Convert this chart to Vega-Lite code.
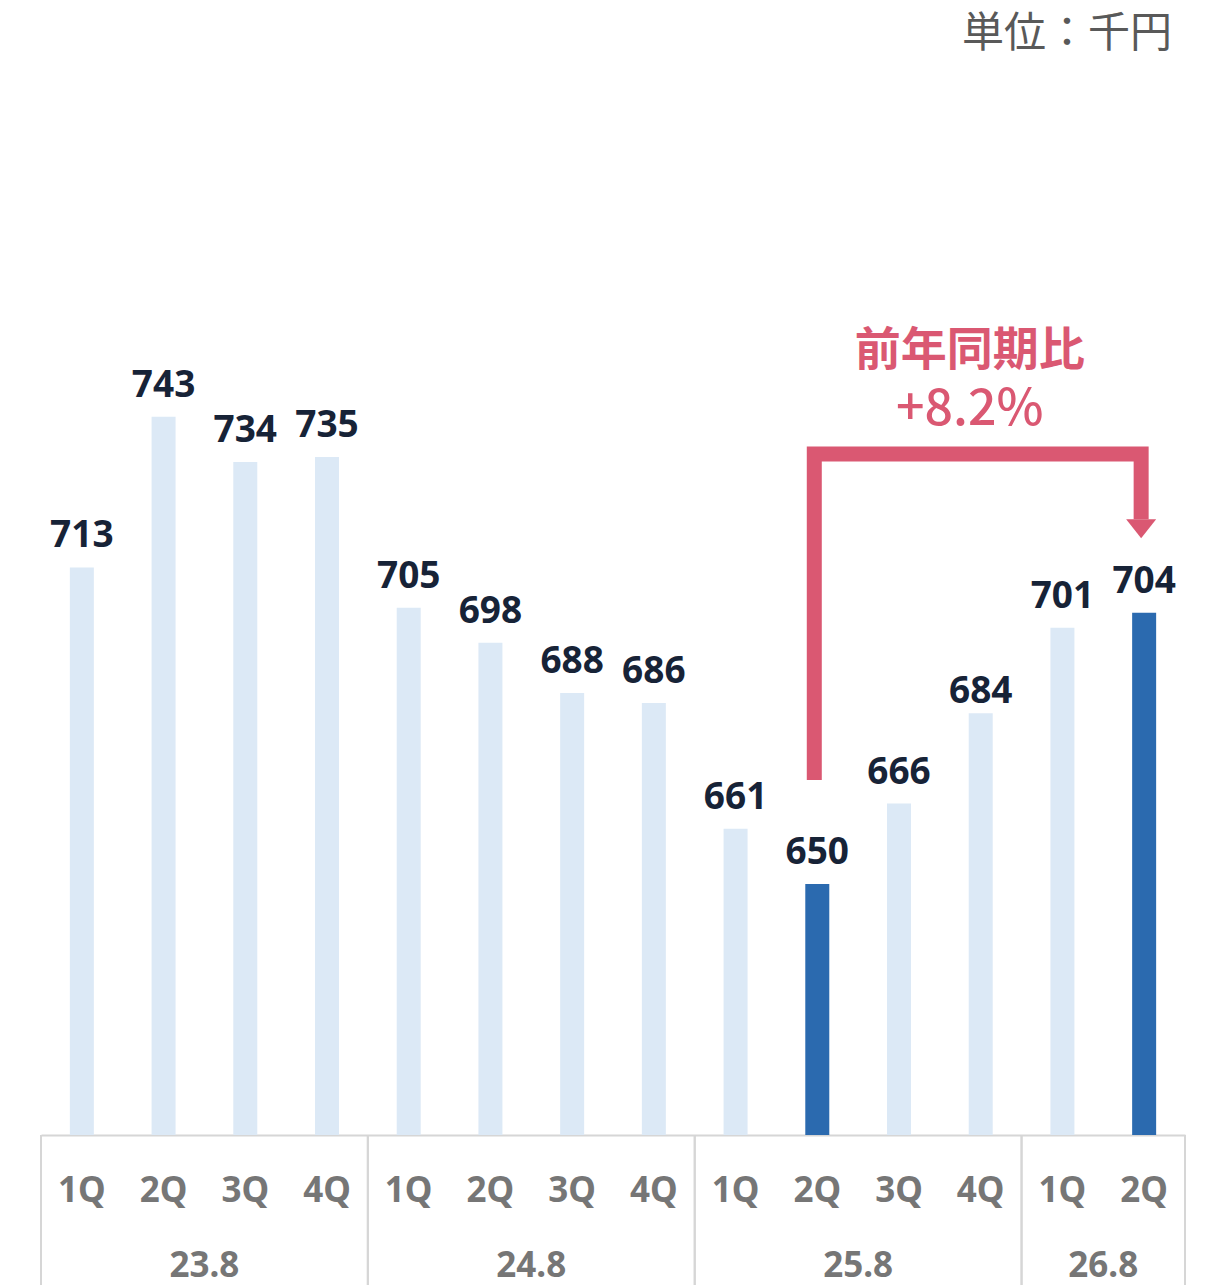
{
  "$schema": "https://vega.github.io/schema/vega-lite/v6.json",
  "autosize": "none",
  "width": 1144,
  "height": 1130,
  "padding": {"left": 41, "top": 5, "right": 29, "bottom": 150},
  "background": "#ffffff",
  "config": {"view": {"stroke": null}, "font": "Noto Sans, Noto Sans CJK JP"},
  "datasets": {
    "bars": [
      {"period": "23.8", "q": "1Q", "key": "23.8 1Q", "value": 713, "current": "no"},
      {"period": "23.8", "q": "2Q", "key": "23.8 2Q", "value": 743, "current": "no"},
      {"period": "23.8", "q": "3Q", "key": "23.8 3Q", "value": 734, "current": "no"},
      {"period": "23.8", "q": "4Q", "key": "23.8 4Q", "value": 735, "current": "no"},
      {"period": "24.8", "q": "1Q", "key": "24.8 1Q", "value": 705, "current": "no"},
      {"period": "24.8", "q": "2Q", "key": "24.8 2Q", "value": 698, "current": "no"},
      {"period": "24.8", "q": "3Q", "key": "24.8 3Q", "value": 688, "current": "no"},
      {"period": "24.8", "q": "4Q", "key": "24.8 4Q", "value": 686, "current": "no"},
      {"period": "25.8", "q": "1Q", "key": "25.8 1Q", "value": 661, "current": "no"},
      {"period": "25.8", "q": "2Q", "key": "25.8 2Q", "value": 650, "current": "yes"},
      {"period": "25.8", "q": "3Q", "key": "25.8 3Q", "value": 666, "current": "no"},
      {"period": "25.8", "q": "4Q", "key": "25.8 4Q", "value": 684, "current": "no"},
      {"period": "26.8", "q": "1Q", "key": "26.8 1Q", "value": 701, "current": "no"},
      {"period": "26.8", "q": "2Q", "key": "26.8 2Q", "value": 704, "current": "yes"}
    ],
    "groups": [
      {"period": "23.8", "first": "23.8 1Q", "last": "23.8 4Q", "mid": "23.8 2Q"},
      {"period": "24.8", "first": "24.8 1Q", "last": "24.8 4Q", "mid": "24.8 2Q"},
      {"period": "25.8", "first": "25.8 1Q", "last": "25.8 4Q", "mid": "25.8 2Q"},
      {"period": "26.8", "first": "26.8 1Q", "last": "26.8 2Q", "mid": "26.8 1Q"}
    ],
    "bracket": [
      {"key": "25.8 2Q", "v": 670.7, "step": 1},
      {"key": "25.8 2Q", "v": 735.6, "step": 2},
      {"key": "26.8 2Q", "v": 735.6, "step": 3},
      {"key": "26.8 2Q", "v": 722.6, "step": 4}
    ]
  },
  "encoding": {
    "x": {
      "field": "key",
      "type": "nominal",
      "title": null,
      "scale": {
        "domain": ["23.8 1Q", "23.8 2Q", "23.8 3Q", "23.8 4Q", "24.8 1Q", "24.8 2Q", "24.8 3Q", "24.8 4Q", "25.8 1Q", "25.8 2Q", "25.8 3Q", "25.8 4Q", "26.8 1Q", "26.8 2Q"],
        "paddingInner": 0,
        "paddingOuter": 0
      },
      "axis": {"labels": false, "ticks": false, "domainColor": "#d6d6d6", "domainWidth": 2, "title": null, "grid": false}
    }
  },
  "layer": [
    {
      "data": {"name": "bars"},
      "mark": {"type": "bar", "width": 24},
      "encoding": {
        "y": {"field": "value", "type": "quantitative", "scale": {"domain": [600, 825], "nice": false, "zero": false}, "axis": null},
        "y2": {"datum": 600},
        "color": {"field": "current", "type": "nominal", "scale": {"domain": ["no", "yes"], "range": ["#dce9f6", "#2b6aaf"]}, "legend": null}
      }
    },
    {
      "data": {"name": "bars"},
      "transform": [{"filter": "datum.key != '25.8 4Q'"}],
      "mark": {"type": "text", "baseline": "alphabetic", "dy": -20, "fontSize": 37, "fontWeight": "bold", "color": "#172337"},
      "encoding": {
        "y": {"field": "value", "type": "quantitative"},
        "text": {"field": "value", "type": "quantitative"}
      }
    },
    {
      "data": {"name": "bars"},
      "transform": [{"filter": "datum.key == '25.8 4Q'"}],
      "mark": {"type": "text", "baseline": "alphabetic", "dy": -10, "fontSize": 37, "fontWeight": "bold", "color": "#172337"},
      "encoding": {
        "y": {"field": "value", "type": "quantitative"},
        "text": {"field": "value", "type": "quantitative"}
      }
    },
    {
      "data": {"name": "bars"},
      "mark": {"type": "text", "baseline": "alphabetic", "fontSize": 35, "fontWeight": "bold", "color": "#767676"},
      "encoding": {
        "y": {"datum": 586.7},
        "text": {"field": "q", "type": "nominal"}
      }
    },
    {
      "data": {"name": "groups"},
      "mark": {"type": "rule", "color": "#d6d6d6", "strokeWidth": 2},
      "encoding": {
        "x": {"field": "first", "type": "nominal", "bandPosition": 0},
        "y": {"datum": 600},
        "y2": {"datum": 569}
      }
    },
    {
      "data": {"name": "groups"},
      "mark": {"type": "rule", "color": "#d6d6d6", "strokeWidth": 2},
      "encoding": {
        "x": {"field": "last", "type": "nominal", "bandPosition": 1},
        "y": {"datum": 600},
        "y2": {"datum": 569}
      }
    },
    {
      "data": {"name": "groups"},
      "mark": {"type": "text", "baseline": "alphabetic", "fontSize": 35, "fontWeight": "bold", "color": "#767676"},
      "encoding": {
        "x": {"field": "mid", "type": "nominal", "bandPosition": 1},
        "y": {"datum": 571.8},
        "text": {"field": "period", "type": "nominal"}
      }
    },
    {
      "data": {"name": "bracket"},
      "mark": {"type": "line", "color": "#da5872", "strokeWidth": 15, "strokeJoin": "miter", "strokeCap": "butt", "xOffset": -3},
      "encoding": {
        "y": {"field": "v", "type": "quantitative"},
        "order": {"field": "step", "type": "quantitative"}
      }
    },
    {
      "data": {"values": [{"key": "26.8 2Q", "v": 720.7}]},
      "mark": {"type": "point", "filled": true, "opacity": 1, "color": "#da5872", "size": 900, "shape": "M-1,-0.633L1,-0.633L0,0.633Z", "xOffset": -3},
      "encoding": {
        "y": {"field": "v", "type": "quantitative"}
      }
    },
    {
      "data": {"values": [{"key": "25.8 4Q", "v": 756.2, "label": "前年同期比"}]},
      "mark": {"type": "text", "baseline": "middle", "dx": -11, "fontSize": 46, "fontWeight": "bold", "color": "#da5872", "font": "Noto Sans CJK JP"},
      "encoding": {
        "y": {"field": "v", "type": "quantitative"},
        "text": {"field": "label", "type": "nominal"}
      }
    },
    {
      "data": {"values": [{"key": "25.8 4Q", "v": 744.3, "label": "+8.2%"}]},
      "mark": {"type": "text", "baseline": "middle", "dx": -11, "fontSize": 50, "fontWeight": 500, "color": "#da5872", "font": "Noto Sans CJK JP"},
      "encoding": {
        "y": {"field": "v", "type": "quantitative"},
        "text": {"field": "label", "type": "nominal"}
      }
    },
    {
      "data": {"values": [{"key": "26.8 2Q", "v": 819.2, "label": "単位：千円"}]},
      "mark": {"type": "text", "baseline": "middle", "align": "right", "dx": -13, "fontSize": 42, "fontWeight": "normal", "color": "#595959", "font": "Noto Sans CJK JP"},
      "encoding": {
        "x": {"field": "key", "type": "nominal", "bandPosition": 1},
        "y": {"field": "v", "type": "quantitative"},
        "text": {"field": "label", "type": "nominal"}
      }
    }
  ]
}
